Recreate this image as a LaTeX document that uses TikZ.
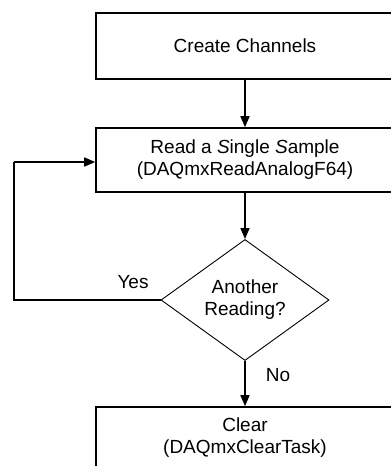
\documentclass[tikz,border=0pt]{standalone}
\usepackage{fontspec}
\setmainfont{Liberation Sans}
\usetikzlibrary{shapes.geometric,arrows.meta}
\begin{document}
\begin{tikzpicture}[x=1pt,y=-1pt,
  every node/.style={font=\fontsize{19}{22}\selectfont},
  stepbox/.style={draw,line width=1.6pt,minimum width=298pt,inner sep=0pt,align=center},
  decision/.style={draw,diamond,line width=0.9pt,minimum width=168pt,minimum height=114pt,inner sep=0pt,align=center},
  flow/.style={line width=1.6pt,-{Triangle[length=11pt,width=9pt]}},
  plain/.style={inner sep=0pt,align=center}]
\path[use as bounding box] (0,0) rectangle (391,466);
\clip (0,0) rectangle (391,466);
\node[stepbox,minimum height=66pt] (create) at (245,46) {Create Channels};
\node[stepbox,minimum height=64pt] (read) at (245,160) {Read a \textit{S}ingle \textit{S}ample\\(DAQmxReadAnalogF64)};
\node[decision] (dia) at (245,300) {Another\\Reading?};
\node[stepbox,minimum height=90pt] (clear) at (245,452) {};
\node[plain] (cleartxt) at (245,438) {Clear\\(DAQmxClearTask)};
\coordinate (loop) at (14,162);
\draw[flow] (create.south) -- (read.north);
\draw[flow] (read.south) -- (dia.north);
\draw[flow] (dia.south) -- (clear.north);
\draw[line width=1.6pt] (dia.west) -| (loop);
\draw[flow] (loop) -- (loop -| read.west);
\node[plain] (yes) at (133,282) {Yes};
\node[plain] (no) at (278,375) {No};
\end{tikzpicture}
\end{document}
